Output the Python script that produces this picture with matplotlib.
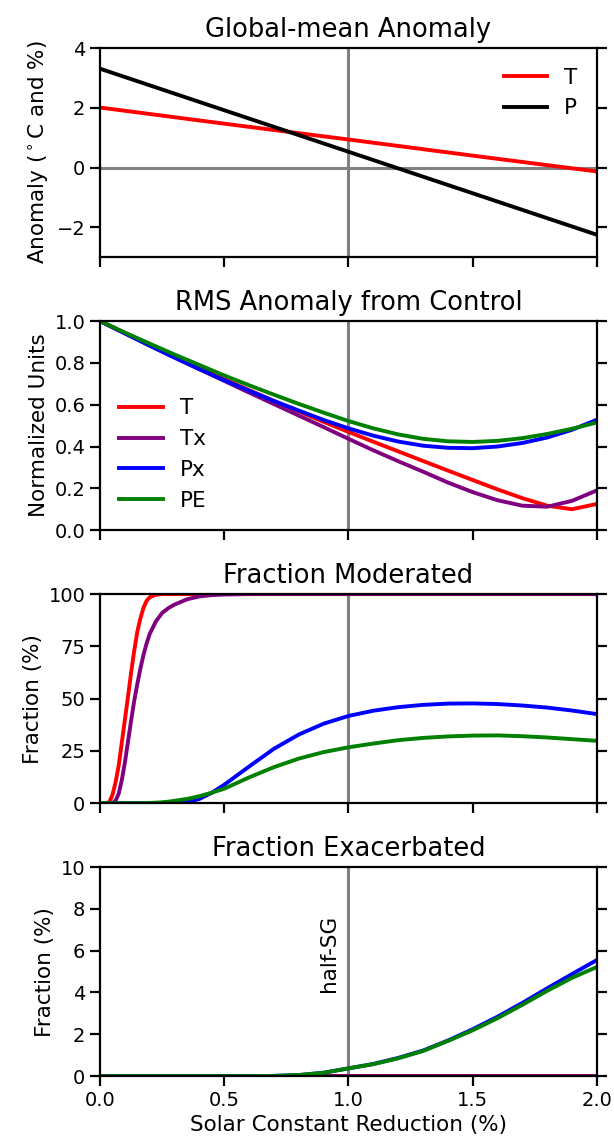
import numpy as np
import matplotlib
matplotlib.use('Agg')
import matplotlib.pyplot as plt

# Panel 1: global-mean anomaly (linear in solar reduction)
x1 = [0.0, 0.5, 1.0, 1.5, 2.0]
T1 = [2.01, 1.47, 0.94, 0.40, -0.13]
P1 = [3.31, 1.92, 0.53, -0.86, -2.25]

# Panel 2: RMS anomaly from control
x2 = [0.0, 0.1, 0.2, 0.3, 0.4, 0.5, 0.6, 0.7, 0.8, 0.9, 1.0,
      1.1, 1.2, 1.3, 1.4, 1.5, 1.6, 1.7, 1.8, 1.9, 2.0]
T2 = [1.00, 0.943, 0.886, 0.830, 0.775, 0.722, 0.670, 0.618, 0.568, 0.518, 0.470,
      0.423, 0.377, 0.331, 0.285, 0.240, 0.195, 0.153, 0.117, 0.100, 0.125]
Tx2 = [1.00, 0.942, 0.884, 0.826, 0.770, 0.714, 0.658, 0.603, 0.548, 0.493, 0.437,
       0.382, 0.330, 0.280, 0.228, 0.182, 0.143, 0.117, 0.112, 0.140, 0.190]
Px2 = [1.00, 0.941, 0.882, 0.825, 0.770, 0.717, 0.667, 0.618, 0.572, 0.527, 0.487,
       0.452, 0.424, 0.404, 0.394, 0.392, 0.400, 0.417, 0.443, 0.480, 0.528]
PE2 = [1.00, 0.945, 0.892, 0.840, 0.790, 0.740, 0.693, 0.648, 0.604, 0.562, 0.522,
       0.487, 0.458, 0.437, 0.425, 0.422, 0.427, 0.440, 0.460, 0.485, 0.515]

# Panel 3: fraction moderated (%)
x3 = [0.0, 0.025, 0.0375, 0.05, 0.0625, 0.075, 0.0875, 0.1, 0.1125, 0.125, 0.1375,
      0.15, 0.1625, 0.175, 0.1875, 0.2, 0.225, 0.25, 0.275, 0.3, 0.35, 0.4, 0.45,
      0.5, 0.6, 0.7, 0.8, 0.9, 1.0, 1.1, 1.2, 1.3, 1.4, 1.5, 1.6, 1.7, 1.8, 1.9, 2.0]
T3 = [0, 0, 0.5, 4, 10, 18, 29, 40, 51, 62.5, 73,
      82, 88.5, 93.5, 96.8, 98.5, 99.7, 100, 100, 100, 100, 100, 100,
      100, 100, 100, 100, 100, 100, 100, 100, 100, 100, 100, 100, 100, 100, 100, 100]
Tx3 = [0, 0, 0, 0, 1.2, 4.5, 11, 19.5, 29.5, 39.5, 49,
       57, 64.5, 71, 76.5, 81, 87, 91, 93.3, 95, 97.5, 98.9, 99.5,
       99.8, 100, 100, 100, 100, 100, 100, 100, 100, 100, 100, 100, 100, 100, 100, 100]
Px3 = [0, 0, 0, 0, 0, 0, 0, 0, 0, 0, 0,
       0, 0, 0, 0, 0, 0, 0, 0, 0, 0.4, 2.0, 5.0,
       8.8, 17.5, 26.0, 32.8, 38.0, 41.7, 44.2, 45.9, 47.0, 47.6, 47.7, 47.4, 46.7, 45.7, 44.3, 42.6]
PE3 = [0, 0, 0, 0, 0, 0, 0, 0, 0, 0, 0,
       0, 0.02, 0.05, 0.07, 0.1, 0.22, 0.4, 0.7, 1.1, 2.0, 3.3, 5.0,
       6.9, 12.3, 17.2, 21.3, 24.4, 26.7, 28.5, 30.1, 31.2, 31.9, 32.3, 32.4, 32.0, 31.4, 30.6, 29.8]

# Panel 4: fraction exacerbated (%)
x4 = x2
T4 = [0.0] * 21
Tx4 = [0.0] * 21
Px4 = [0, 0, 0, 0, 0, 0, 0, 0.01, 0.05, 0.16, 0.37,
       0.58, 0.87, 1.22, 1.70, 2.24, 2.84, 3.50, 4.20, 4.88, 5.55]
PE4 = [0, 0, 0, 0, 0, 0, 0, 0.01, 0.05, 0.16, 0.37,
       0.57, 0.85, 1.20, 1.68, 2.19, 2.77, 3.41, 4.08, 4.70, 5.22]

colors = {'T': 'red', 'Tx': 'purple', 'Px': 'blue', 'PE': 'green'}
lw = 2.8

plt.rcParams['font.family'] = 'DejaVu Sans'
plt.rcParams['xtick.labelsize'] = 14
plt.rcParams['ytick.labelsize'] = 14
plt.rcParams['axes.labelsize'] = 15.5
plt.rcParams['axes.titlesize'] = 18.5
plt.rcParams['legend.fontsize'] = 15.5
plt.rcParams['axes.linewidth'] = 1.6

fig, axs = plt.subplots(4, 1, sharex=True, figsize=(6.14, 11.46), dpi=100)
fig.subplots_adjust(left=0.163, right=0.972, bottom=0.061, top=0.958, hspace=0.306)

for ax in axs:
    ax.axvline(1.0, color='gray', lw=2.2, zorder=1)
    ax.tick_params(axis='both', direction='out', length=7, width=1.6)
    ax.tick_params(axis='y', right=True)
    ax.set_xlim(0, 2)
    ax.set_xticks([0.0, 0.5, 1.0, 1.5, 2.0])

# Global-mean anomaly
ax = axs[0]
ax.axhline(0, color='gray', lw=2.2, zorder=1)
ax.plot(x1, T1, color='red', lw=lw, label='T')
ax.plot(x1, P1, color='black', lw=lw, label='P')
ax.set_ylim(-3, 4)
ax.set_yticks([-2, 0, 2, 4])
ax.set_ylabel('Anomaly ($^\\circ$C and %)')
ax.set_title('Global-mean Anomaly', pad=8)
ax.legend(loc='upper right', frameon=False)

# RMS anomaly
ax = axs[1]
ax.plot(x2, T2, color=colors['T'], lw=lw, label='T')
ax.plot(x2, Tx2, color=colors['Tx'], lw=lw, label='Tx')
ax.plot(x2, Px2, color=colors['Px'], lw=lw, label='Px')
ax.plot(x2, PE2, color=colors['PE'], lw=lw, label='PE')
ax.set_ylim(0, 1)
ax.set_yticks([0.0, 0.2, 0.4, 0.6, 0.8, 1.0])
ax.set_ylabel('Normalized Units')
ax.set_title('RMS Anomaly from Control', pad=8)
ax.legend(loc='lower left', frameon=False)

# Fraction moderated
ax = axs[2]
ax.plot(x3, T3, color=colors['T'], lw=lw)
ax.plot(x3, Tx3, color=colors['Tx'], lw=lw)
ax.plot(x3, Px3, color=colors['Px'], lw=lw)
ax.plot(x3, PE3, color=colors['PE'], lw=lw)
ax.set_ylim(0, 100)
ax.set_yticks([0, 25, 50, 75, 100])
ax.set_ylabel('Fraction (%)')
ax.set_title('Fraction Moderated', pad=8)

# Fraction exacerbated
ax = axs[3]
ax.plot(x4, T4, color=colors['T'], lw=lw)
ax.plot(x4, Tx4, color=colors['Tx'], lw=lw)
ax.plot(x4, Px4, color=colors['Px'], lw=lw)
ax.plot(x4, PE4, color=colors['PE'], lw=lw)
ax.set_ylim(0, 10)
ax.set_yticks([0, 2, 4, 6, 8, 10])
ax.set_ylabel('Fraction (%)')
ax.set_title('Fraction Exacerbated', pad=8)
ax.text(0.96, 4.0, 'half-SG', rotation=90, ha='right', va='bottom', fontsize=15.5)
ax.set_xlabel('Solar Constant Reduction (%)')

fig.savefig('out.png', dpi=100)
